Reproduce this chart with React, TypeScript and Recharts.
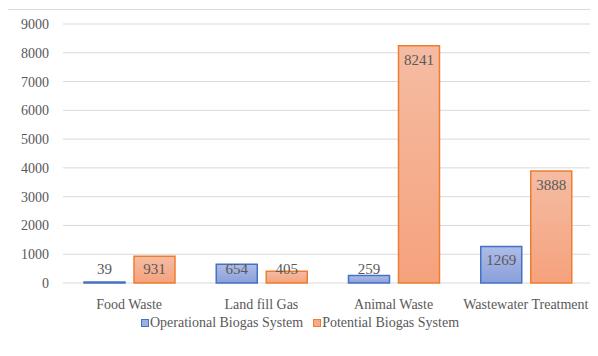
import React from "react";
import { BarChart, Bar, XAxis, YAxis, CartesianGrid, Legend, LabelList } from "recharts";

const categories = ["Food Waste", "Land fill Gas", "Animal Waste", "Wastewater Treatment"];
const operational = [39, 654, 259, 1269];
const potential = [931, 405, 8241, 3888];
const yTicks = [0, 1000, 2000, 3000, 4000, 5000, 6000, 7000, 8000, 9000];

const data = categories.map((name, i) => ({
  name,
  operational: operational[i],
  potential: potential[i],
}));

const font = "Liberation Serif";
const grey = "#595959";

// Excel style "inside end" labels, pushed up when the bar is too short
function InsideEndLabel(props: any) {
  const { x, y, width, height, value } = props;
  const cy = Math.min(y + 14, y + height - 14);
  return (
    <text x={x + width / 2} y={cy} textAnchor="middle" dominantBaseline="central"
      fontFamily={font} fontSize={15} fill={grey}>
      {value}
    </text>
  );
}

function LegendContent() {
  const items = [
    { label: "Operational Biogas System", fill: "#9aaee0", stroke: "#4472C4" },
    { label: "Potential Biogas System", fill: "#f6ab88", stroke: "#ED7D31" },
  ];
  return (
    <div style={{ display: "flex", justifyContent: "center", gap: 10, fontFamily: font, fontSize: 14, color: grey, lineHeight: "20px" }}>
      {items.map((it) => (
        <div key={it.label} style={{ display: "flex", alignItems: "center" }}>
          <span style={{ width: 6, height: 6, background: it.fill, border: `1px solid ${it.stroke}`, marginRight: 1 }} />
          <span>{it.label}</span>
        </div>
      ))}
    </div>
  );
}

export default function App() {
  return (
    <div style={{ width: 590, height: 347, marginLeft: -1, marginTop: 1, border: "1px solid #d9d9d9", borderRight: "none", borderBottom: "none", background: "#fff" }}>
      <BarChart width={588} height={345} data={data} barSize={41} barGap={9}
        margin={{ top: 14, right: 4, left: 0, bottom: 10 }}>
        <defs>
          <linearGradient id="gBlue" x1="0" y1="0" x2="0" y2="1">
            <stop offset="0%" stopColor="#aebce6" />
            <stop offset="100%" stopColor="#8a9fdb" />
          </linearGradient>
          <linearGradient id="gOrange" x1="0" y1="0" x2="0" y2="1">
            <stop offset="0%" stopColor="#f5bca3" />
            <stop offset="100%" stopColor="#f5a27c" />
          </linearGradient>
        </defs>
        <CartesianGrid vertical={false} stroke="#d9d9d9" />
        <XAxis dataKey="name" axisLine={false} tickLine={false} height={30} interval={0}
          tick={{ fontFamily: font, fontSize: 14, fill: grey }} tickMargin={10} />
        <YAxis domain={[0, 9000]} ticks={yTicks} axisLine={false} tickLine={false} width={55}
          tick={{ fontFamily: font, fontSize: 14, fill: grey }} tickMargin={8} />
        <Legend verticalAlign="bottom" height={32} wrapperStyle={{ top: 303, bottom: "auto" }} content={<LegendContent />} />
        <Bar dataKey="operational" name="Operational Biogas System" fill="url(#gBlue)" stroke="#4472C4" strokeWidth={1.5} isAnimationActive={false}>
          <LabelList dataKey="operational" content={<InsideEndLabel />} />
        </Bar>
        <Bar dataKey="potential" name="Potential Biogas System" fill="url(#gOrange)" stroke="#ED7D31" strokeWidth={1.5} isAnimationActive={false}>
          <LabelList dataKey="potential" content={<InsideEndLabel />} />
        </Bar>
      </BarChart>
    </div>
  );
}
